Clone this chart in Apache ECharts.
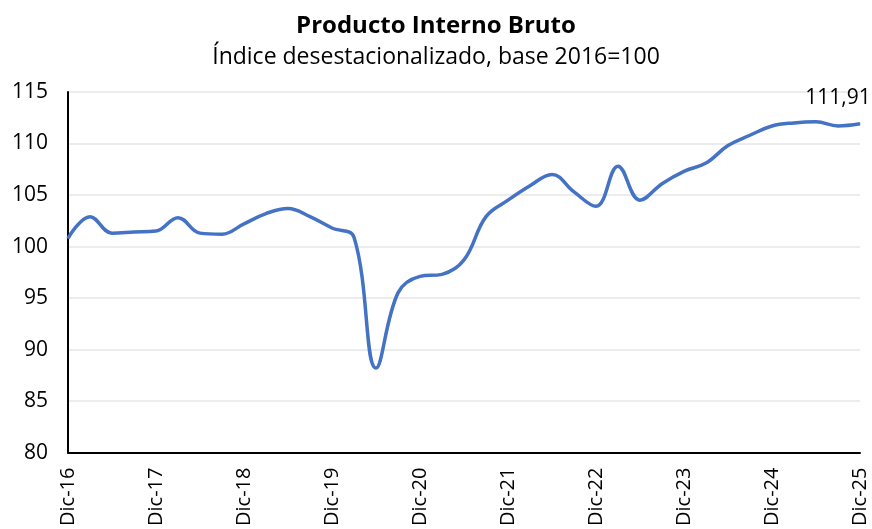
<!DOCTYPE html>
<html>
<head>
<meta charset="utf-8">
<script src="https://cdn.jsdelivr.net/npm/echarts@6/dist/echarts.min.js"></script>
<style>
    html, body { margin: 0; padding: 0; background: #fff; }
    #pibChart { width: 872px; height: 529px; }
</style>
</head>
<body>
<div id="pibChart"></div>
<script>
    // trimestres Dic-16 .. Dic-25
    var meses = ['Mar', 'Jun', 'Sep', 'Dic'];
    var categorias = ['Dic-16'];
    for (var a = 17; a <= 25; a++) {
        meses.forEach(function (m) { categorias.push(m + '-' + a); });
    }

    // índice desestacionalizado
    var valores = [
        100.8, 102.9, 101.3, 101.4,
        101.5, 102.8, 101.3, 101.2,
        102.2, 103.2, 103.7, 102.9,
        101.8, 100.9, 88.2, 95.5,
        97.1, 97.3, 98.7, 102.9,
        104.5, 105.9, 107.0, 105.3,
        103.9, 107.8, 104.5, 106.1,
        107.3, 108.1, 109.8, 110.8,
        111.7, 112.0, 112.1, 111.7,
        111.91
    ];

    var yTicks = [80, 85, 90, 95, 100, 105, 110, 115];

    var chart = echarts.init(document.getElementById('pibChart'));
    var fuente = 'Open Sans, Noto Sans, sans-serif';

    chart.setOption({
        animation: false,
        title: {
            text: 'Producto Interno Bruto',
            subtext: 'Índice desestacionalizado, base 2016=100',
            left: 'center',
            top: 9,
            itemGap: 8,
            textStyle: { fontFamily: fuente, fontSize: 24, fontWeight: 'bold', color: '#000' },
            subtextStyle: { fontFamily: fuente, fontSize: 23, color: '#000' }
        },
        grid: { left: 68, right: 12, top: 92, bottom: 76 },
        xAxis: {
            type: 'category',
            data: categorias,
            boundaryGap: false,
            axisLine: { lineStyle: { color: '#000', width: 2 } },
            axisTick: { show: false },
            axisLabel: {
                interval: 3,
                rotate: 90,
                margin: 15,
                fontFamily: fuente,
                fontSize: 20,
                color: '#000'
            },
            splitLine: { show: false }
        },
        yAxis: {
            type: 'value',
            min: yTicks[0],
            max: yTicks[yTicks.length - 1],
            interval: 5,
            axisLine: { show: true, lineStyle: { color: '#000', width: 2 } },
            axisTick: { show: false },
            axisLabel: {
                fontFamily: fuente,
                fontSize: 21,
                color: '#000',
                margin: 20
            },
            splitLine: { lineStyle: { color: '#ececec', width: 2 } }
        },
        series: [{
            type: 'line',
            data: valores.map(function (v, i) {
                if (i === valores.length - 1) {
                    return {
                        value: v,
                        label: {
                            show: true,
                            position: 'top',
                            offset: [-22, -10],
                            formatter: function (p) { return p.value.toFixed(2).replace('.', ','); },
                            fontFamily: fuente,
                            fontSize: 21,
                            color: '#000'
                        }
                    };
                }
                return v;
            }),
            smooth: 0.4,
            symbol: 'circle',
            symbolSize: 1,
            showSymbol: true,
            itemStyle: { color: '#4472C4' },
            lineStyle: { color: '#4472C4', width: 3.5 }
        }]
    });
</script>
</body>
</html>
